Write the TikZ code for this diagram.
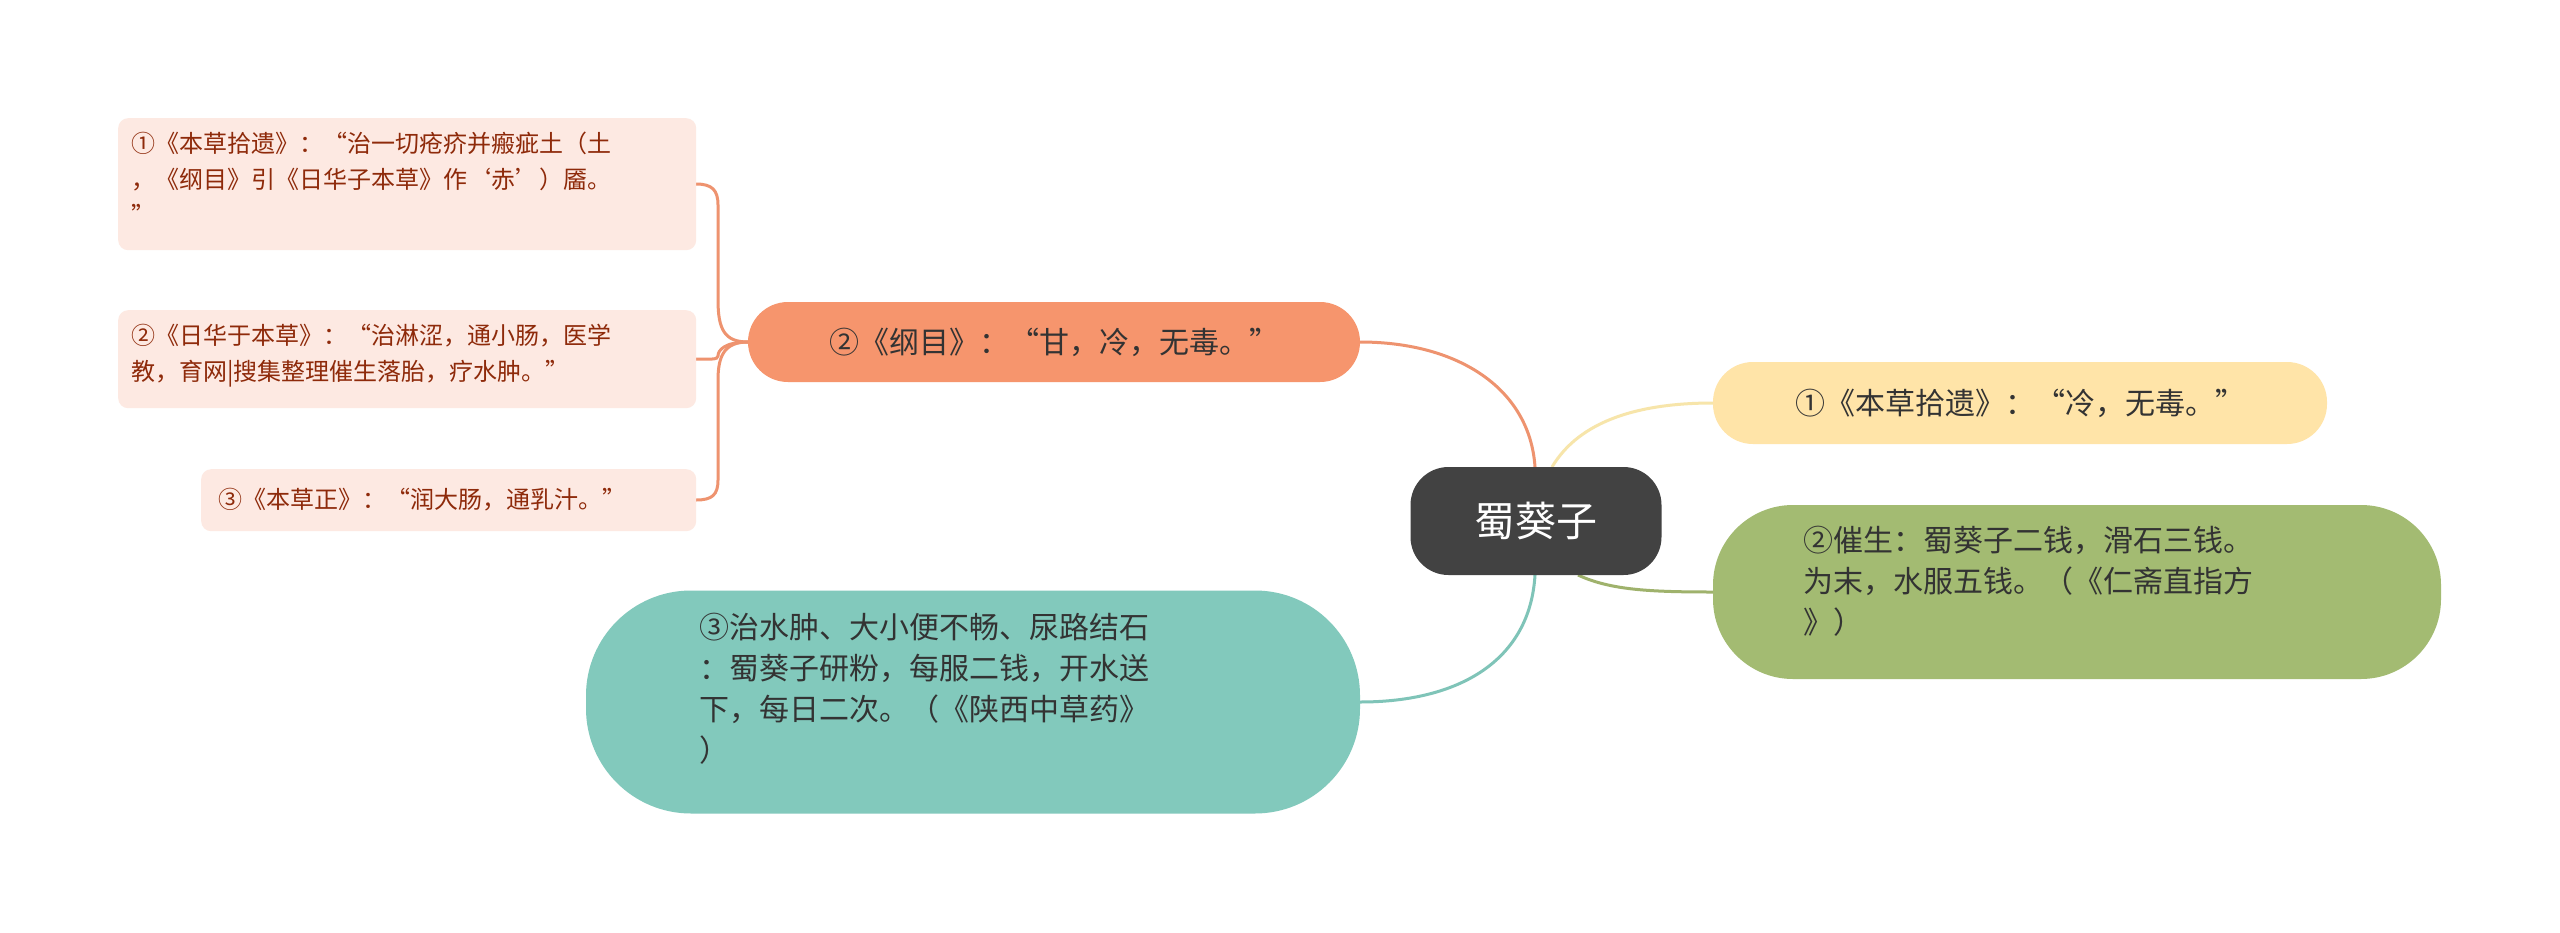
\documentclass[tikz,border=0pt]{standalone}
\usepackage{fontspec}
\setmainfont{Noto Sans CJK SC}
\begin{document}
\begin{tikzpicture}[x=1pt,y=-1pt,
  small/.style={rectangle,rounded corners=10pt,fill=smallfill,text=smalltext,anchor=north west,align=left,inner sep=0pt,font=\fontsize{24}{36}\selectfont},
  mid/.style={rectangle,rounded corners=40pt,align=left,inner sep=0pt,text=maintext,font=\fontsize{30}{41}\selectfont},
  conn/.style={line width=3pt}]
\definecolor{smallfill}{HTML}{FDE9E2}
\definecolor{smalltext}{HTML}{8E2A0A}
\definecolor{maintext}{HTML}{333333}
\definecolor{orangef}{HTML}{F6956D}
\definecolor{orangel}{HTML}{EE936F}
\definecolor{yellowf}{HTML}{FFE4A8}
\definecolor{yellowl}{HTML}{F7E5AA}
\definecolor{greenf}{HTML}{A3BB72}
\definecolor{greenl}{HTML}{9FB26C}
\definecolor{tealf}{HTML}{82C9BC}
\definecolor{teall}{HTML}{7FC4B8}
\definecolor{darkf}{HTML}{424242}
\useasboundingbox (0,0) rectangle (2560,932);
\fill[white] (0,0) rectangle (2560,932);

% connectors first
\coordinate (ct) at (1535,467);
\coordinate (cty) at (1552,467);
\coordinate (cb) at (1535,575);
\coordinate (cbg) at (1578,575);
\coordinate (ol) at (748,342);
\draw[conn,orangel] (ct) .. controls (1530,390) and (1460,342) .. (1360,342);
\draw[conn,teall] (cb) .. controls (1530,660) and (1460,702) .. (1360,702);
\draw[conn,yellowl] (cty) .. controls (1580,420) and (1640,403) .. (1713,403);
\draw[conn,greenl] (cbg) .. controls (1610,590) and (1650,592) .. (1713,592);
\draw[conn,orangel] (ol) .. controls (725,342) and (718,330) .. (718,300) -- (718,205) .. controls (718,190) and (712,184) .. (696,184);
\draw[conn,orangel] (ol) .. controls (725,342) and (718,350) .. (718,356) .. controls (718,360) and (710,359) .. (696,359);
\draw[conn,orangel] (ol) .. controls (725,342) and (718,355) .. (718,380) -- (718,480) .. controls (718,495) and (712,500) .. (696,500);

% left small boxes
\node[small,minimum width=578pt,minimum height=132pt,text depth=0pt] (l1) at (118,118) {};
\node[anchor=north west,inner sep=0pt,text=smalltext,align=left,font=\fontsize{24}{36}\selectfont] (l1t) at (131,132) {①《本草拾遗》：“治一切疮疥并瘢疵土（土\\，《纲目》引《日华子本草》作‘赤’）靥。\\”};
\node[small,minimum width=578pt,minimum height=98pt] (l2) at (118,310) {};
\node[anchor=north west,inner sep=0pt,text=smalltext,align=left,font=\fontsize{24}{36}\selectfont] (l2t) at (131,324) {②《日华于本草》：“治淋涩，通小肠，医学\\教，育网|搜集整理催生落胎，疗水肿。”};
\node[small,minimum width=495pt,minimum height=62pt] (l3) at (201,469) {};
\node[anchor=west,inner sep=0pt,text=smalltext,font=\fontsize{24}{36}\selectfont] (l3t) at (218,500) {③《本草正》：“润大肠，通乳汁。”};

% main nodes
\node[mid,fill=orangef,minimum width=612pt,minimum height=80pt] (o) at (1054,342) {②《纲目》：“甘，冷，无毒。”};
\node[rectangle,rounded corners=38pt,fill=darkf,text=white,minimum width=251pt,minimum height=108pt,font=\fontsize{41}{48}\selectfont] (c) at (1536,521) {蜀葵子};
\node[mid,fill=yellowf,minimum width=614pt,minimum height=82pt] (y) at (2020,403) {①《本草拾遗》：“冷，无毒。”};
\node[mid,fill=greenf,rounded corners=80pt,minimum width=728pt,minimum height=174pt] (g) at (2077,592) {};
\node[anchor=north west,inner sep=0pt,align=left,text=maintext,font=\fontsize{30}{41}\selectfont] (gt) at (1803,526) {②催生：蜀葵子二钱，滑石三钱。\\为末，水服五钱。（《仁斋直指方\\》）};
\node[mid,fill=tealf,rounded corners=105pt,minimum width=774pt,minimum height=223pt] (t) at (973,702) {};
\node[anchor=north west,inner sep=0pt,align=left,text=maintext,font=\fontsize{30}{41}\selectfont] (tt) at (699,613) {③治水肿、大小便不畅、尿路结石\\：蜀葵子研粉，每服二钱，开水送\\下，每日二次。（《陕西中草药》\\）};
\end{tikzpicture}
\end{document}
